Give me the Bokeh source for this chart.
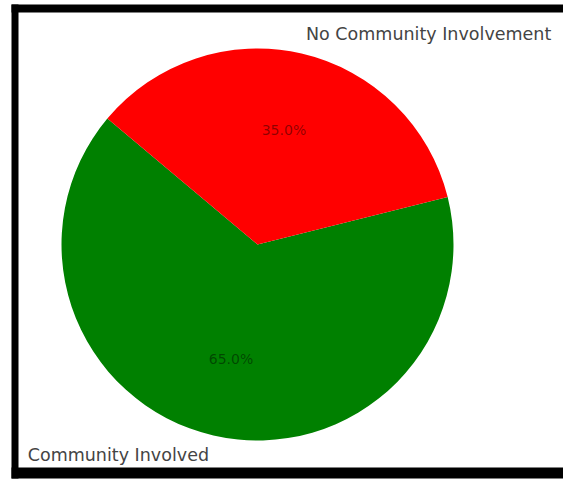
import math
from bokeh.plotting import figure
from bokeh.models import Range1d, ColumnDataSource
from bokeh.embed import file_html
from bokeh.resources import INLINE
from bokeh.core.properties import value

# Data
categories = ["Community Involved", "No Community Involvement"]
shares = [65.0, 35.0]
colors = ["#008000", "#ff0000"]

W, H = 563, 479
p = figure(width=W, height=H, output_backend="svg", toolbar_location=None,
           x_range=Range1d(0, W), y_range=Range1d(0, H), min_border=0)
p.axis.visible = False
p.grid.visible = False
p.outline_line_color = None
p.background_fill_color = "white"
p.border_fill_color = "white"

cx, cy, r = 257, H - 244, 196
start = 140.0
total = sum(shares)
starts, ends, mids = [], [], []
a = start
for s in shares:
    span = 360.0 * s / total
    starts.append(math.radians(a))
    ends.append(math.radians(a + span))
    mids.append(math.radians(a + span / 2))
    a += span

src = ColumnDataSource(dict(start=starts, end=ends, color=colors))
p.wedge(x=cx, y=cy, radius=r, start_angle="start", end_angle="end",
        fill_color="color", line_color=None, source=src)

# category labels at 1.1 r
lx = [cx + 1.1 * r * math.cos(m) for m in mids]
ly = [cy + 1.1 * r * math.sin(m) for m in mids]
align = ["right" if math.cos(m) < 0 else "left" for m in mids]
p.text(x=lx, y=ly, text=categories, text_align=align, text_baseline="middle",
       text_font=value("DejaVu Sans"), text_font_size="17.5px", text_color="#444444")

# percent labels at 0.6 r
px = [cx + 0.6 * r * math.cos(m) for m in mids]
py = [cy + 0.6 * r * math.sin(m) for m in mids]
pct = ["%.1f%%" % s for s in shares]
p.text(x=px, y=py, text=pct, text_align="center", text_baseline="middle",
       text_font=value("DejaVu Sans"), text_font_size="14px", text_color="black",
       text_alpha=0.45)

# black frame of the picture
p.quad(left=[11, 11, 11], right=[W, 18, W],
       top=[H - 4, H - 4, H - 467], bottom=[H - 12, H - 478, H - 478],
       fill_color="black", line_color=None)

open("out.html", "w").write(file_html(p, INLINE))
